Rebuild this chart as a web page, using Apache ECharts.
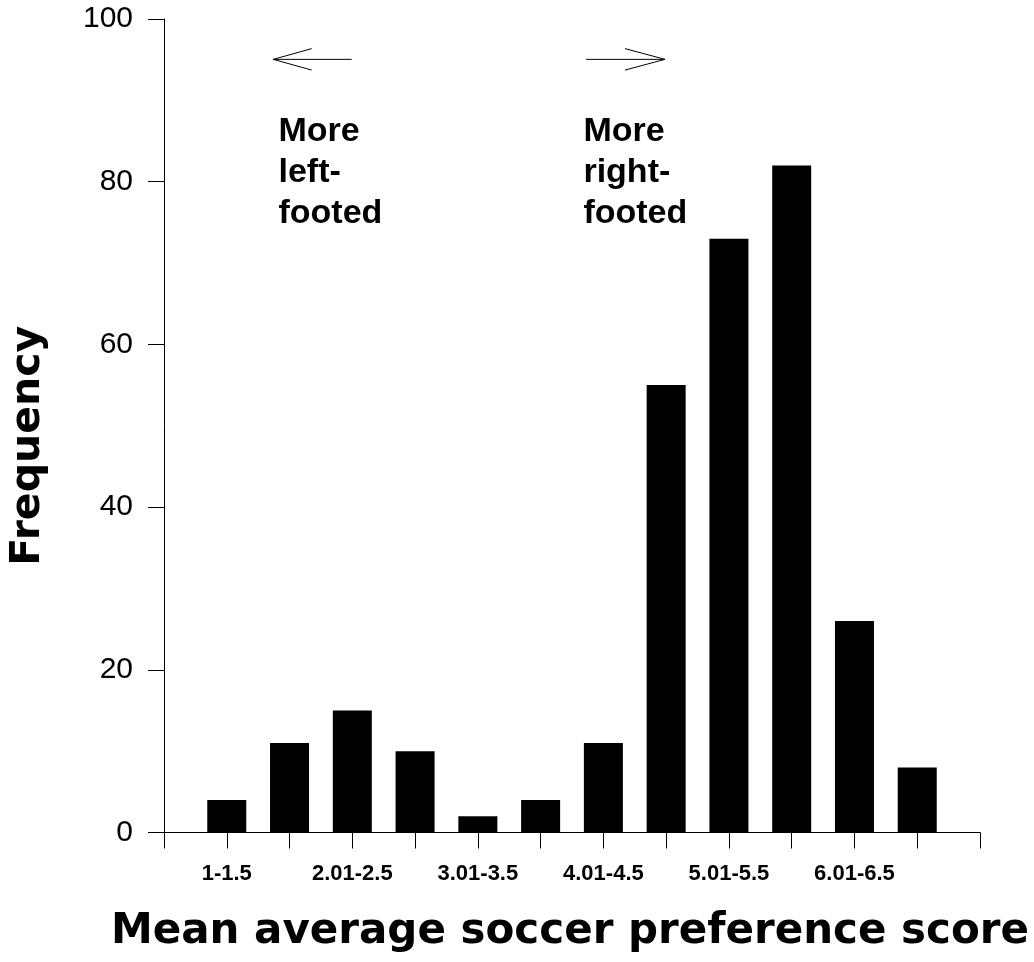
<!DOCTYPE html>
<html>
<head>
<meta charset="utf-8">
<script src="https://cdn.jsdelivr.net/npm/echarts@6/dist/echarts.min.js"></script>
<style>
html,body{margin:0;padding:0;background:#fff;}
#chart{width:1034px;height:962px;}
</style>
</head>
<body>
<div id="chart"></div>
<script>
// ---- data ----
const categories = ['1-1.5','1.51-2','2.01-2.5','2.51-3','3.01-3.5','3.51-4','4.01-4.5','4.51-5','5.01-5.5','5.51-6','6.01-6.5','6.51-7'];
const frequency = [4, 11, 15, 10, 2, 4, 11, 55, 73, 82, 26, 8];
const yTicks = {min: 0, max: 100, interval: 20};
const xTitle = 'Mean average soccer preference score';
const yTitle = 'Frequency';
// annotations in data units (x: bin position, y: frequency)
const leftArrowShaft = [[2.99, 95.04], [1.741, 95.04]];
const leftArrowHead = [[2.353, 96.36], [1.741, 95.04], [2.353, 93.72]];
const rightArrowShaft = [[6.723, 95.04], [7.982, 95.04]];
const rightArrowHead = [[7.344, 96.36], [7.982, 95.04], [7.344, 93.72]];
const notes = [[1.832, 88.56, 'More\nleft-\nfooted'], [6.69, 88.56, 'More\nright-\nfooted']];

// padded axis: empty slot at each end
const axisCats = [''].concat(categories, ['']);
const barData = [null].concat(frequency, [null]);

const chart = echarts.init(document.getElementById('chart'), null, {renderer: 'canvas'});
const black = '#000';
const option = {
  animation: false,
  backgroundColor: '#fff',
  grid: {left: 164, right: 54, top: 19, bottom: 129.5, containLabel: false, outerBoundsMode: 'none'},
  xAxis: [
    {
      type: 'category',
      data: axisCats,
      boundaryGap: false,
      axisLine: {show: true, lineStyle: {color: black, width: 1}},
      axisTick: {show: true, interval: 0, length: 16, lineStyle: {color: black, width: 1}},
      axisLabel: {
        show: true,
        interval: function (index) { return index % 2 === 1; },
        margin: 30,
        color: black,
        fontFamily: 'Liberation Sans',
        fontWeight: 'bold',
        fontSize: 22,
        lineHeight: 22
      },
      splitLine: {show: false},
      name: xTitle,
      nameLocation: 'middle',
      nameGap: 79,
      nameTextStyle: {
        color: black,
        fontFamily: 'DejaVu Sans',
        fontWeight: 'bold',
        fontSize: 42,
        lineHeight: 42,
        padding: [0, 4, 0, 0]
      }
    },
    {
      type: 'value',
      min: 0,
      max: 13,
      show: false
    }
  ],
  yAxis: {
    type: 'value',
    min: yTicks.min,
    max: yTicks.max,
    interval: yTicks.interval,
    axisLine: {show: true, lineStyle: {color: black, width: 1}},
    axisTick: {show: true, length: 16, lineStyle: {color: black, width: 1}},
    axisLabel: {
      margin: 31,
      color: black,
      fontFamily: 'Liberation Sans',
      fontSize: 30
    },
    splitLine: {show: false},
    name: yTitle,
    nameLocation: 'middle',
    nameRotate: 90,
    nameGap: 115,
    nameTextStyle: {
      color: black,
      fontFamily: 'DejaVu Sans',
      fontWeight: 'bold',
      fontSize: 41,
      lineHeight: 41,
      padding: [0, 40, 0, 0]
    }
  },
  series: [
    {
      type: 'bar',
      data: barData,
      barWidth: 39,
      itemStyle: {color: black},
      silent: true
    },
    {
      type: 'lines',
      coordinateSystem: 'cartesian2d',
      xAxisIndex: 1,
      yAxisIndex: 0,
      polyline: true,
      silent: true,
      lineStyle: {color: black, width: 1, opacity: 1},
      data: [
        {coords: leftArrowShaft},
        {coords: leftArrowHead},
        {coords: rightArrowShaft},
        {coords: rightArrowHead}
      ]
    },
    {
      type: 'scatter',
      xAxisIndex: 1,
      yAxisIndex: 0,
      symbolSize: 1,
      itemStyle: {color: 'rgba(0,0,0,0)', opacity: 1},
      silent: true,
      data: notes,
      label: {
        show: true,
        position: [0, 0],
        align: 'left',
        verticalAlign: 'top',
        formatter: function (p) { return p.data[2]; },
        color: black,
        opacity: 1,
        fontFamily: 'Liberation Sans',
        fontWeight: 'bold',
        fontSize: 34,
        lineHeight: 41
      }
    }
  ]
};
chart.setOption(option);
</script>
</body>
</html>
